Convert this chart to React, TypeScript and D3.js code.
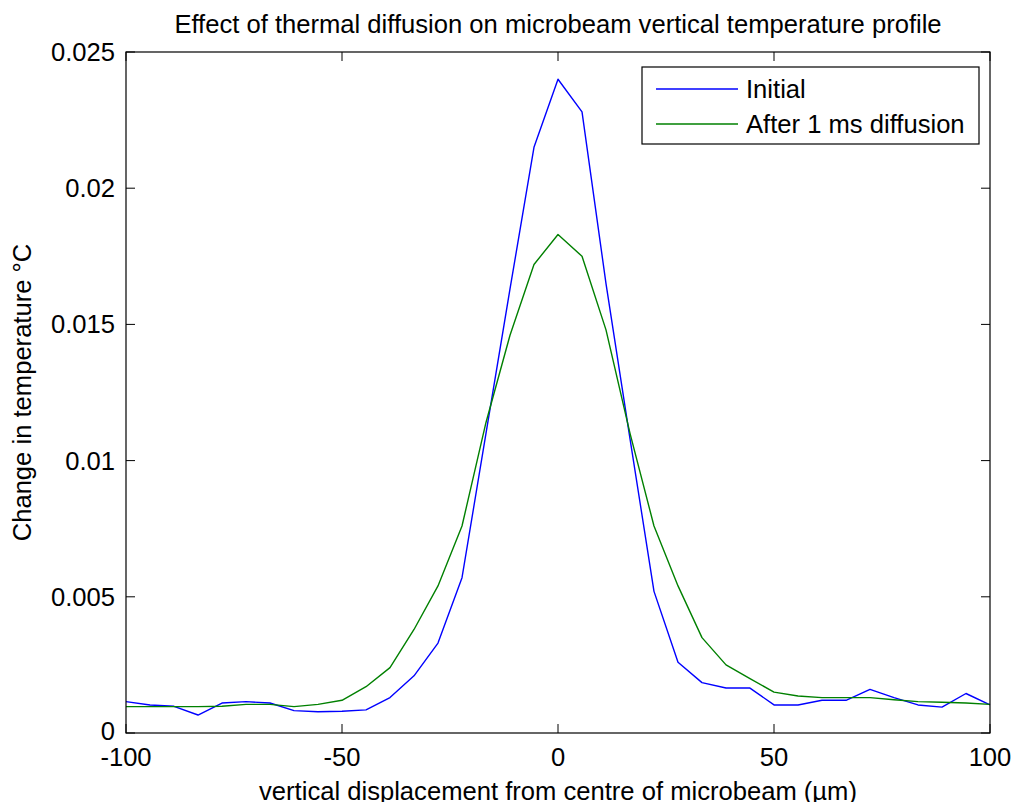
import * as d3 from 'd3';

const xValues = [
  -100, -94.44, -88.89, -83.33, -77.78, -72.22, -66.67, -61.11, -55.56, -50,
  -44.44, -38.89, -33.33, -27.78, -22.22, -16.67, -11.11, -5.56, 0, 5.56,
  11.11, 16.67, 22.22, 27.78, 33.33, 38.89, 44.44, 50, 55.56, 61.11,
  66.67, 72.22, 77.78, 83.33, 88.89, 94.44, 100,
];

const initialValues = [
  0.00115, 0.00103, 0.00098, 0.00066, 0.0011, 0.00115, 0.0011, 0.00082, 0.00078, 0.0008,
  0.00085, 0.0013, 0.0021, 0.0033, 0.0057, 0.011, 0.0163, 0.0215, 0.024, 0.0228,
  0.0165, 0.0108, 0.0052, 0.0026, 0.00185, 0.00165, 0.00165, 0.00103, 0.00103, 0.0012,
  0.0012, 0.0016, 0.0013, 0.00103, 0.00095, 0.00145, 0.00103,
];

const diffusedValues = [
  0.00097, 0.00097, 0.00097, 0.00097, 0.00098, 0.00105, 0.00105, 0.00097, 0.00105, 0.0012,
  0.0017, 0.0024, 0.0038, 0.0054, 0.0076, 0.0114, 0.0146, 0.0172, 0.0183, 0.0175,
  0.0148, 0.011, 0.0076, 0.0054, 0.0035, 0.0025, 0.002, 0.0015, 0.00136, 0.0013,
  0.0013, 0.0013, 0.00122, 0.00115, 0.00113, 0.0011, 0.00105,
];

const seriesNames = ['Initial', 'After 1 ms diffusion'];
const seriesColors = ['#0000ff', '#008000'];

const xTicks = [-100, -50, 0, 50, 100];
const yTicks = [0, 0.005, 0.01, 0.015, 0.02, 0.025];
const yTickLabels = ['0', '0.005', '0.01', '0.015', '0.02', '0.025'];

export default function App() {
  const width = 1013;
  const height = 802;
  const left = 126;
  const right = 990;
  const top = 52;
  const bottom = 733;
  const tickLen = 9;
  const fs = 25.6;
  const font = '"Liberation Sans", Arial, sans-serif';

  const x = d3.scaleLinear().domain([-100, 100]).range([left, right]);
  const y = d3.scaleLinear().domain([0, 0.025]).range([bottom, top]);

  const line = d3.line<number>()
    .x((_, i) => x(xValues[i]))
    .y((d) => y(d));

  const series = [initialValues, diffusedValues];

  return (
    <svg
      width={width}
      height={height}
      style={{ position: 'absolute', left: 0, top: 0, background: '#fff' }}
      fontFamily={font}
    >
      <rect x={0} y={0} width={width} height={height} fill="#fff" />

      {series.map((s, i) => (
        <path
          key={seriesNames[i]}
          d={line(s) || ''}
          fill="none"
          stroke={seriesColors[i]}
          strokeWidth={1.4}
          strokeLinejoin="round"
        />
      ))}

      {/* axes box, ticks point inward like matlab */}
      <rect x={left} y={top} width={right - left} height={bottom - top}
        fill="none" stroke="#000" strokeWidth={1.2} />
      {xTicks.map((t) => (
        <g key={`x${t}`}>
          <line x1={x(t)} x2={x(t)} y1={bottom} y2={bottom - tickLen} stroke="#000" />
          <line x1={x(t)} x2={x(t)} y1={top} y2={top + tickLen} stroke="#000" />
          <text x={x(t)} y={766} textAnchor="middle" fontSize={fs} fill="#000">{t}</text>
        </g>
      ))}
      {yTicks.map((t, i) => (
        <g key={`y${t}`}>
          <line x1={left} x2={left + tickLen} y1={y(t)} y2={y(t)} stroke="#000" />
          <line x1={right} x2={right - tickLen} y1={y(t)} y2={y(t)} stroke="#000" />
          <text x={115} y={y(t) + (t === 0 ? 7 : 9)} textAnchor="end" fontSize={fs} fill="#000">
            {yTickLabels[i]}
          </text>
        </g>
      ))}

      <text x={(left + right) / 2} y={33} textAnchor="middle" fontSize={fs} fill="#000">
        Effect of thermal diffusion on microbeam vertical temperature profile
      </text>
      <text x={(left + right) / 2} y={800} textAnchor="middle" fontSize={fs} fill="#000">
        vertical displacement from centre of microbeam (µm)
      </text>
      <text
        transform={`translate(31, ${(top + bottom) / 2}) rotate(-90)`}
        textAnchor="middle"
        fontSize={fs}
        fill="#000"
      >
        Change in temperature °C
      </text>

      {/* legend */}
      <rect x={642} y={67} width={337} height={77} fill="#fff" stroke="#000" strokeWidth={1.2} />
      {seriesNames.map((n, i) => (
        <g key={n}>
          <line x1={656} x2={738} y1={89 + i * 35} y2={89 + i * 35}
            stroke={seriesColors[i]} strokeWidth={1.4} />
          <text x={746} y={98 + i * 35} fontSize={fs} fill="#000">{n}</text>
        </g>
      ))}
    </svg>
  );
}
